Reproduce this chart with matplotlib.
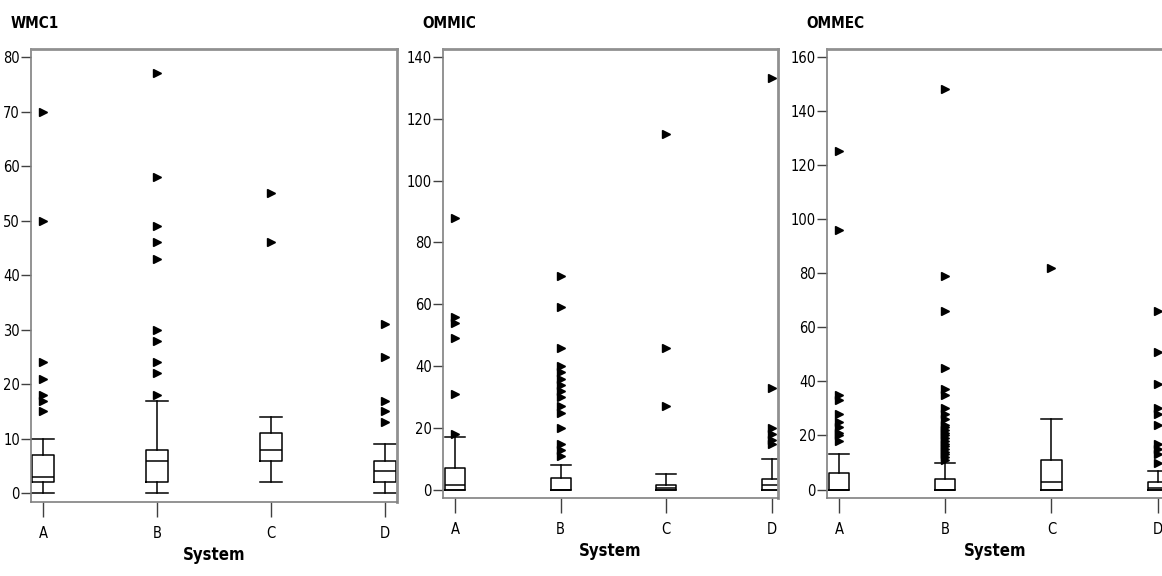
import matplotlib
matplotlib.use("Agg")
import matplotlib.pyplot as plt

plt.rcParams['font.family'] = ['DejaVu Sans']
plt.rcParams['font.stretch'] = 'condensed'

systems = ["A", "B", "C", "D"]

# WMC1 box stats per system: whisker low, q1, median, q3, whisker high, outliers
wmc1_low = [0, 0, 2, 0]
wmc1_q1 = [2, 2, 6, 2]
wmc1_med = [3, 6, 8, 4]
wmc1_q3 = [7, 8, 11, 6]
wmc1_high = [10, 17, 14, 9]
wmc1_out = [
    [15, 17, 18, 21, 24, 50, 70],
    [18, 22, 24, 28, 30, 43, 46, 49, 58, 77],
    [46, 55],
    [13, 15, 17, 25, 31],
]

ommic_low = [0, 0, 0, 0]
ommic_q1 = [0, 0, 0, 0]
ommic_med = [1.5, 0, 0.5, 1.5]
ommic_q3 = [7, 4, 1.6, 3.5]
ommic_high = [17, 8, 5, 10]
ommic_out = [
    [18, 31, 49, 54, 56, 88],
    [11, 13, 15, 20, 25, 27, 30, 32, 34, 36, 38, 40, 46, 59, 69],
    [27, 46, 115],
    [15, 16, 18, 20, 33, 133],
]

ommec_low = [0, 0, 0, 0]
ommec_q1 = [0, 0, 0, 0]
ommec_med = [0, 0, 3, 0.5]
ommec_q3 = [6, 4, 11, 3]
ommec_high = [13, 10, 26, 7]
ommec_out = [
    [18, 20, 21, 23, 25, 28, 33, 35, 96, 125],
    [11, 12, 13, 14, 15, 16, 17, 18, 19, 20, 21, 22, 23, 24, 26, 28, 30,
     35, 37, 45, 66, 79, 148],
    [82],
    [10, 13, 15, 17, 24, 28, 30, 39, 51, 66],
]


def make_stats(low, q1, med, q3, high, out):
    stats = []
    for i in range(len(systems)):
        stats.append(dict(whislo=low[i], q1=q1[i], med=med[i], q3=q3[i],
                          whishi=high[i], fliers=out[i], label=systems[i]))
    return stats


panels = [
    ("WMC1", make_stats(wmc1_low, wmc1_q1, wmc1_med, wmc1_q3, wmc1_high, wmc1_out),
     [0.0267, 0.1285, 0.315, 0.7865], (-1.6, 81.5), range(0, 81, 10), (0.895, 4.105)),
    ("OMMIC", make_stats(ommic_low, ommic_q1, ommic_med, ommic_q3, ommic_high, ommic_out),
     [0.3812, 0.1354, 0.2883, 0.7795], (-2.6, 142.5), range(0, 141, 20), (0.886, 4.06)),
    ("OMMEC", make_stats(ommec_low, ommec_q1, ommec_med, ommec_q3, ommec_high, ommec_out),
     [0.7117, 0.1354, 0.2900, 0.7795], (-3.1, 162.8), range(0, 161, 20), (0.886, 4.06)),
]

fig = plt.figure(figsize=(11.62, 5.76), dpi=100)

for title, stats, rect, ylim, yticks, xlim in panels:
    ax = fig.add_axes(rect)
    line = dict(color="black", linewidth=1.1)
    ax.bxp(stats, positions=[1, 2, 3, 4], widths=0.19,
           boxprops=line, whiskerprops=line, capprops=line, medianprops=line,
           flierprops=dict(marker=">", markerfacecolor="black",
                           markeredgecolor="black", markersize=5.5, linestyle="none"),
           capwidths=0.19)
    ax.set_ylim(*ylim)
    ax.set_xlim(*xlim)
    ax.set_yticks(list(yticks))
    ax.set_xticks([1, 2, 3, 4])
    ax.set_xticklabels(systems)
    ax.tick_params(axis="y", direction="out", length=7, width=1, color="#404040",
                   labelsize=10.5, pad=1)
    ax.tick_params(axis="x", direction="out", length=11, width=1, color="#404040",
                   labelsize=10.5, pad=6)
    for side in ["left", "bottom"]:
        ax.spines[side].set_color("#808080")
        ax.spines[side].set_linewidth(1.2)
    for side in ["top", "right"]:
        ax.spines[side].set_color("#909090")
        ax.spines[side].set_linewidth(2)
    ax.set_xlabel("System", fontsize=12, fontweight="bold", labelpad=4)
    fig.text(rect[0] - 0.018, 0.952, title, fontsize=11, fontweight="bold", ha="left")

fig.savefig("out.png", dpi=100)
